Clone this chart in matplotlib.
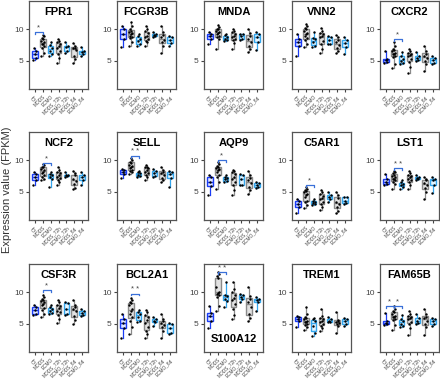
import matplotlib
matplotlib.use("Agg")
import matplotlib.pyplot as plt

plt.rcParams['font.family'] = ['Liberation Sans', 'DejaVu Sans']

groups = ["CT", "MODS", "ECMO", "MODS_72h", "ECMO_72h", "MODS_8d", "ECMO_8d"]

FPR1 = [[5.1, 5.4, 6.0, 6.5, 7.0],
        [5.8, 6.3, 7.1, 7.3, 7.6, 7.7, 7.9, 8.2, 8.4, 8.6, 8.9, 9.1],
        [5.8, 6.1, 6.6, 7.0, 7.5, 8.0],
        [4.6, 5.5, 6.1, 6.6, 7.0, 7.3, 7.6, 7.9, 8.2, 8.5],
        [6.2, 6.6, 7.2, 7.4, 8.0],
        [4.7, 5.2, 5.7, 6.7, 7.0, 7.1, 7.4, 7.8],
        [5.8, 6.1, 6.4, 6.6, 7.2]]
FCGR3B = [[7.2, 8.5, 9.3, 10.0, 10.5],
          [7.4, 8.0, 8.6, 8.8, 9.0, 9.2, 9.4, 9.6, 9.8, 10.0, 10.5, 11.2],
          [7.4, 7.6, 8.1, 8.5, 8.9, 9.3],
          [7.4, 7.9, 8.2, 8.5, 8.8, 9.0, 9.4, 9.7, 10.1, 10.5],
          [8.7, 9.0, 9.1, 9.3, 9.6],
          [6.2, 7.4, 7.9, 8.3, 8.7, 9.1, 9.6, 10.5],
          [7.3, 7.8, 8.3, 8.7, 8.9]]
MNDA = [[7.6, 8.5, 8.9, 9.2, 9.6],
        [6.9, 8.4, 8.7, 8.9, 9.2, 9.4, 9.6, 9.8, 10.0, 10.1, 10.4, 10.7],
        [8.2, 8.3, 8.4, 8.7, 9.1, 9.3],
        [6.9, 7.8, 8.3, 8.5, 8.8, 9.0, 9.2, 9.5, 9.7, 10.0],
        [8.3, 8.5, 8.9, 9.2, 9.3],
        [6.4, 6.8, 7.4, 8.0, 8.4, 9.0, 9.4, 10.0],
        [6.7, 8.0, 8.7, 9.2, 9.5]]
VNN2 = [[5.8, 7.4, 8.0, 8.4, 9.3],
        [7.2, 7.6, 8.3, 8.6, 9.0, 9.2, 9.4, 9.7, 10.0, 10.2, 10.6, 10.9],
        [7.2, 7.4, 7.9, 8.4, 8.6, 9.5],
        [6.2, 6.8, 7.6, 8.1, 8.7, 9.0, 9.2, 9.4, 9.8, 10.2],
        [7.6, 7.7, 8.3, 8.7, 8.9],
        [6.2, 6.5, 7.0, 7.5, 7.9, 8.3, 8.7, 9.1],
        [6.0, 7.2, 7.8, 8.3, 8.7]]
CXCR2 = [[4.7, 4.8, 5.1, 5.3, 6.6],
         [3.9, 4.5, 5.6, 5.8, 6.0, 6.1, 6.3, 6.5, 6.7, 6.9, 7.3, 8.0],
         [4.5, 4.6, 4.9, 5.3, 5.8, 6.4],
         [3.1, 4.0, 4.8, 5.3, 5.7, 5.9, 6.0, 6.3, 6.6, 6.9],
         [5.0, 5.1, 5.4, 5.8, 6.4],
         [3.4, 4.5, 5.0, 5.4, 5.7, 6.1, 6.5, 7.4],
         [4.5, 4.7, 5.1, 5.5, 5.8]]
NCF2 = [[6.1, 6.8, 7.3, 7.8, 8.1],
        [6.8, 7.1, 7.4, 7.6, 8.0, 8.2, 8.4, 8.6, 8.9, 9.0, 9.2, 9.4],
        [5.8, 7.1, 7.3, 7.6, 7.8, 8.1],
        [6.1, 6.5, 6.9, 7.2, 7.4, 7.6, 7.9, 8.2, 8.5, 8.9],
        [7.4, 7.5, 7.6, 7.7, 8.1],
        [5.4, 5.6, 6.2, 6.7, 7.1, 7.6, 8.0, 8.3],
        [6.1, 6.9, 7.3, 7.7, 8.1]]
SELL = [[7.2, 7.8, 8.2, 8.4, 8.6],
        [7.8, 8.1, 8.3, 8.5, 8.8, 8.9, 9.1, 9.3, 9.6, 9.8, 10.0, 10.3],
        [7.4, 7.5, 7.7, 7.9, 8.1, 8.3],
        [6.9, 7.3, 7.6, 8.0, 8.2, 8.4, 8.7, 8.9, 9.0, 9.2],
        [7.3, 7.5, 7.9, 8.3, 8.6],
        [6.6, 6.8, 7.2, 7.6, 8.0, 8.2, 8.5, 9.0],
        [5.8, 7.2, 7.8, 8.1, 8.3]]
AQP9 = [[4.5, 5.9, 6.6, 7.3, 7.7],
        [5.4, 6.6, 7.4, 7.7, 8.1, 8.4, 8.6, 8.7, 8.9, 9.1, 9.4, 9.8],
        [6.5, 6.7, 7.0, 7.2, 7.3, 7.7],
        [4.5, 5.3, 6.0, 6.5, 7.0, 7.4, 7.8, 8.1, 8.3, 8.5],
        [6.0, 6.1, 7.1, 7.6, 7.8],
        [4.6, 5.2, 5.8, 6.4, 6.8, 7.2, 7.6, 8.3],
        [5.6, 5.8, 6.1, 6.4, 6.6]]
C5AR1 = [[1.6, 2.5, 3.0, 3.5, 3.9],
         [2.4, 2.9, 3.3, 3.6, 4.2, 4.5, 4.7, 4.9, 5.1, 5.3, 5.5, 5.8],
         [2.9, 3.0, 3.2, 3.4, 3.6, 3.9],
         [2.1, 2.6, 3.0, 3.4, 3.8, 4.0, 4.3, 4.7, 4.9, 5.3],
         [3.3, 3.8, 4.1, 4.5, 4.9],
         [1.6, 1.9, 2.5, 3.0, 3.4, 4.0, 4.5, 5.0],
         [3.0, 3.2, 3.6, 4.1, 4.2]]
LST1 = [[6.1, 6.3, 6.6, 7.0, 7.8],
        [5.4, 6.2, 6.6, 6.8, 7.0, 7.1, 7.3, 7.5, 7.7, 7.9, 8.1, 8.3],
        [5.5, 5.8, 6.0, 6.2, 6.5, 6.9],
        [5.5, 6.0, 6.5, 6.8, 7.1, 7.3, 7.5, 7.7, 8.0, 8.3],
        [6.9, 7.0, 7.2, 7.4, 7.6],
        [3.9, 5.0, 5.6, 6.1, 6.4, 6.8, 7.1, 7.4],
        [4.8, 6.1, 6.8, 7.1, 7.3]]
CSF3R = [[6.4, 6.6, 7.2, 7.7, 8.0],
         [6.1, 6.6, 7.2, 7.5, 7.9, 8.2, 8.4, 8.6, 8.8, 9.0, 9.3, 9.6],
         [6.6, 6.7, 7.0, 7.3, 7.6, 8.0],
         [5.1, 5.8, 6.4, 6.8, 7.1, 7.5, 7.8, 8.0, 8.4, 8.8],
         [6.4, 6.5, 7.4, 8.3, 8.5],
         [4.9, 5.6, 6.3, 7.0, 7.4, 7.7, 8.0, 8.8],
         [6.3, 6.4, 6.7, 7.0, 7.3]]
BCL2A1 = [[2.8, 4.3, 5.1, 5.8, 6.6],
          [3.4, 4.5, 5.5, 6.0, 6.6, 7.0, 7.4, 7.9, 8.3, 8.5, 8.8, 9.1],
          [5.3, 5.5, 6.1, 6.6, 6.9, 7.2],
          [2.7, 3.3, 3.8, 4.4, 5.1, 5.6, 6.0, 6.4, 6.8, 7.2],
          [4.7, 5.3, 5.5, 5.8, 6.0],
          [2.8, 3.9, 4.4, 4.8, 5.1, 5.4, 5.8, 6.6],
          [3.3, 3.6, 4.3, 4.9, 5.1]]
S100A12 = [[4.3, 5.5, 6.2, 6.7, 7.8],
           [7.0, 7.8, 9.3, 9.6, 9.8, 9.9, 10.1, 10.8, 12.2, 12.6, 12.9, 13.2],
           [7.7, 8.6, 9.0, 9.4, 9.6, 11.7],
           [5.7, 6.4, 7.4, 8.2, 8.7, 9.1, 9.6, 10.0, 10.5, 11.6],
           [8.4, 8.9, 9.3, 9.6, 9.8],
           [5.4, 5.9, 6.6, 7.7, 8.5, 9.0, 9.4, 10.8],
           [7.0, 8.5, 8.8, 9.0, 9.2]]
TREM1 = [[4.5, 5.4, 5.8, 6.1, 6.3],
         [4.0, 4.5, 4.8, 5.0, 5.2, 5.3, 5.5, 5.7, 5.9, 6.1, 6.6, 7.6],
         [3.0, 3.6, 4.6, 5.5, 5.7, 5.9],
         [3.8, 4.3, 4.7, 5.0, 5.3, 5.5, 5.7, 5.9, 6.3, 7.3],
         [5.2, 5.3, 5.5, 5.7, 6.0],
         [3.6, 4.6, 4.9, 5.1, 5.3, 5.5, 5.6, 6.9],
         [4.7, 5.0, 5.4, 5.7, 5.9]]
FAM65B = [[4.8, 4.9, 5.1, 5.4, 6.7],
          [4.0, 4.8, 5.6, 5.8, 6.0, 6.1, 6.3, 6.5, 6.8, 7.0, 7.3, 7.8],
          [4.5, 4.7, 5.0, 5.4, 5.7, 6.4],
          [3.2, 4.3, 5.0, 5.3, 5.7, 5.9, 6.0, 6.2, 6.5, 7.0],
          [4.9, 5.1, 5.5, 5.9, 6.6],
          [3.2, 4.4, 5.0, 5.5, 5.9, 6.1, 6.6, 7.4],
          [4.7, 5.0, 5.4, 5.7, 5.9]]

gene_names = ["FPR1", "FCGR3B", "MNDA", "VNN2", "CXCR2",
              "NCF2", "SELL", "AQP9", "C5AR1", "LST1",
              "CSF3R", "BCL2A1", "S100A12", "TREM1", "FAM65B"]
gene_data = [FPR1, FCGR3B, MNDA, VNN2, CXCR2,
             NCF2, SELL, AQP9, C5AR1, LST1,
             CSF3R, BCL2A1, S100A12, TREM1, FAM65B]

# significance: gene, group a, group b, bracket level, label
sig_genes = ["FPR1", "CXCR2", "NCF2", "SELL", "AQP9", "C5AR1", "LST1",
             "CSF3R", "BCL2A1", "S100A12", "FAM65B", "FAM65B"]
sig_a = [0, 1, 1, 1, 1, 1, 1, 1, 1, 1, 0, 1]
sig_b = [1, 2, 2, 2, 2, 2, 2, 2, 2, 2, 1, 2]
sig_level = [9.6, 8.4, 9.6, 10.7, 10.0, 6.1, 8.7, 10.3, 9.8, 13.2, 7.8, 7.8]
sig_label = ["*", "*", "*", "* *", "*", "*", "* *", "*", "* *", "* *", "*", "*"]

edge_colors = ["#1a3cf5", "#8a8a8a", "#33a6ee", "#8a8a8a", "#33a6ee", "#8a8a8a", "#33a6ee"]
face_colors = ["#dfe6ff", "#e2e2e2", "#e6f4fd", "#e2e2e2", "#e6f4fd", "#e2e2e2", "#e6f4fd"]

W, H = 440, 381
fig = plt.figure(figsize=(W / 100, H / 100), dpi=100)

col_left = [29, 117, 204, 292, 380]
row_top = [1, 132, 264]
pw, ph = 59, 88

jit = [-0.18, 0.12, -0.05, 0.2, -0.14, 0.06, 0.16, -0.22, 0.0, -0.1, 0.22, 0.09]

for k, (name, data) in enumerate(zip(gene_names, gene_data)):
    r, c = divmod(k, 5)
    ax = fig.add_axes([col_left[c] / W, 1 - (row_top[r] + ph) / H, pw / W, ph / H])
    pos = list(range(1, len(groups) + 1))
    bp = ax.boxplot(data, positions=pos, widths=0.72, whis=(0, 100),
                    showfliers=False, patch_artist=True)
    for i in range(len(groups)):
        bp['boxes'][i].set(facecolor=face_colors[i], edgecolor=edge_colors[i], linewidth=1.0)
        bp['medians'][i].set(color=edge_colors[i], linewidth=1.0)
        for w in bp['whiskers'][2 * i:2 * i + 2]:
            w.set(color=edge_colors[i], linewidth=0.9)
        for cp in bp['caps'][2 * i:2 * i + 2]:
            cp.set(visible=False)
    for i, vals in enumerate(data):
        xs = [pos[i] + jit[j % len(jit)] for j in range(len(vals))]
        ax.scatter(xs, vals, s=3.0, color="black", zorder=5, linewidths=0)
    for g, a, b, lv, lb in zip(sig_genes, sig_a, sig_b, sig_level, sig_label):
        if g == name:
            xa, xb = pos[a], pos[b]
            ax.plot([xa, xa, xb, xb], [lv - 0.3, lv, lv, lv - 0.3],
                    color="#3a70d8", linewidth=0.9, zorder=6)
            ax.text((xa + xb) / 2, lv + 0.1, lb, ha="center", va="bottom",
                    fontsize=5.5, color="#444444")
    ax.set_xlim(0.25, 7.75)
    ax.set_ylim(0.5, 14.5)
    ax.set_yticks([5, 10])
    ax.set_yticklabels(["5", "10"])
    ax.set_xticks(pos)
    ax.set_xticklabels(groups, rotation=45, ha="right", rotation_mode="anchor",
                       fontsize=3.4, color="#555555")
    ax.tick_params(axis="y", labelsize=6, colors="#444444", length=2.5, width=0.8, pad=1.5)
    ax.tick_params(axis="x", length=2.5, width=0.8, colors="#444444", pad=1.5)
    for sp in ax.spines.values():
        sp.set_color("#555555")
        sp.set_linewidth(0.9)
    if name == "S100A12":
        ax.text(0.5, 0.15, name, transform=ax.transAxes, ha="center", va="center",
                fontsize=8, fontweight="bold")
    else:
        ax.text(0.5, 0.87, name, transform=ax.transAxes, ha="center", va="center",
                fontsize=8, fontweight="bold")

fig.text(7 / W, 1 - 190 / H, "Expression value (FPKM)", rotation=90,
         ha="center", va="center", fontsize=8, color="#333333")

fig.savefig("out.png", dpi=100)
